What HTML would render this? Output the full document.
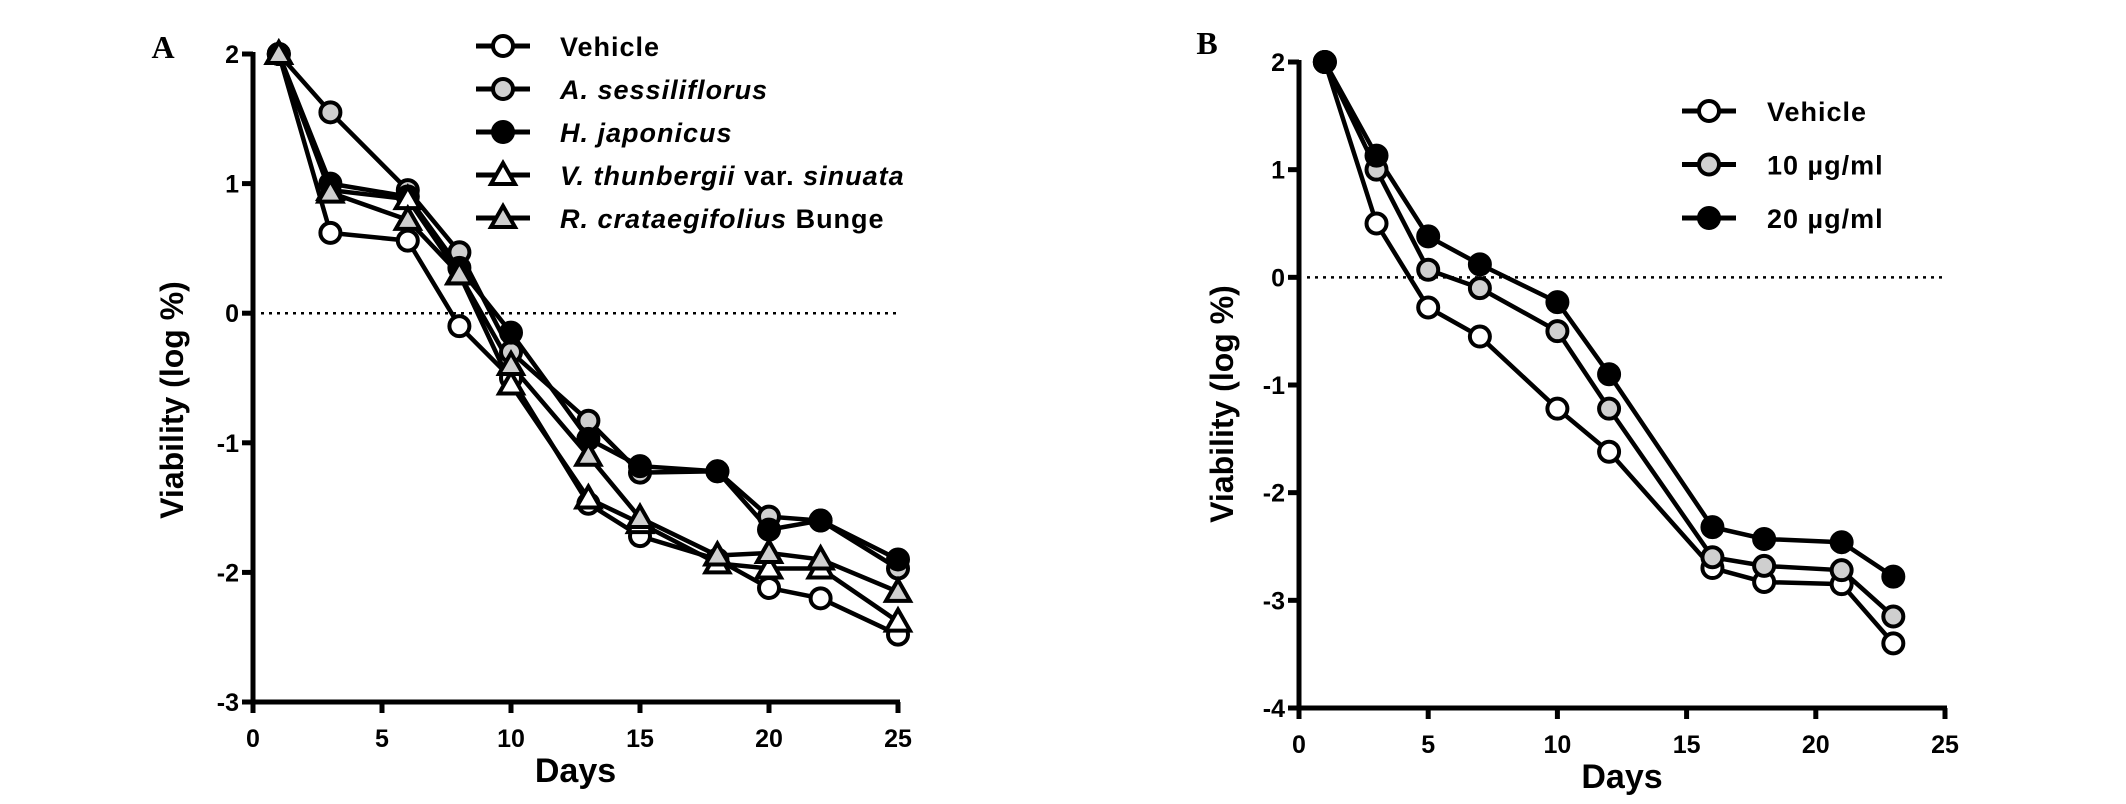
<!DOCTYPE html>
<html><head><meta charset="utf-8">
<style>
html,body{margin:0;padding:0;background:#fff;}
svg{display:block;font-family:"Liberation Sans",Arial,sans-serif;}
</style></head>
<body>
<svg id="chart" width="2126" height="804" viewBox="0 0 2126 804" xmlns="http://www.w3.org/2000/svg">
<text x="163" y="58" font-family="Liberation Serif,serif" font-weight="bold" font-size="32" text-anchor="middle">A</text>
<text x="1207" y="54" font-family="Liberation Serif,serif" font-weight="bold" font-size="32" text-anchor="middle">B</text>
<g id="panelA"></g>
<g id="panelB"></g>
</svg>
<script>
// Panel A data
const daysA = [1,3,6,8,10,13,15,18,20,22,25];
const vehicleA = [2,0.62,0.56,-0.1,-0.5,-1.47,-1.72,-1.9,-2.12,-2.2,-2.48];
const sessiliflorusA = [2,1.55,0.95,0.47,-0.3,-0.83,-1.23,-1.22,-1.57,-1.6,-1.97];
const japonicusA = [2,1.0,0.9,0.35,-0.15,-0.97,-1.18,-1.22,-1.67,-1.6,-1.9];
const thunbergiiA = [2,0.95,0.88,0.3,-0.55,-1.43,-1.62,-1.93,-1.97,-1.97,-2.38];
const crataegifoliusA = [2,0.93,0.72,0.3,-0.4,-1.1,-1.58,-1.87,-1.85,-1.9,-2.15];
const xTicksA = [0,5,10,15,20,25];
const yTicksA = [-3,-2,-1,0,1,2];
// Panel B data
const daysB = [1,3,5,7,10,12,16,18,21,23];
const vehicleB = [2,0.5,-0.28,-0.55,-1.22,-1.62,-2.7,-2.83,-2.85,-3.4];
const dose10B = [2,1.0,0.07,-0.1,-0.5,-1.22,-2.6,-2.68,-2.72,-3.15];
const dose20B = [2,1.13,0.38,0.12,-0.23,-0.9,-2.32,-2.43,-2.46,-2.78];
const xTicksB = [0,5,10,15,20,25];
const yTicksB = [-4,-3,-2,-1,0,1,2];

const NS="http://www.w3.org/2000/svg";
function mk(parent,tag,attrs){const e=document.createElementNS(NS,tag);for(const k in attrs)e.setAttribute(k,attrs[k]);parent.appendChild(e);return e;}

function marker(g,shape,fill,x,y){
  let e;
  if(shape==='circle'){e=mk(g,'circle',{cx:x,cy:y,r:10,fill:fill,stroke:'#000','stroke-width':4});}
  else{e=mk(g,'polygon',{points:`${x},${y-12} ${x+12},${y+9} ${x-12},${y+9}`,fill:fill,stroke:'#000','stroke-width':4,'stroke-linejoin':'miter'});}
  return e;
}

function drawPanel(g,cfg){
  const sx=v=>cfg.x0+(v-cfg.xmin)/(cfg.xmax-cfg.xmin)*(cfg.x1-cfg.x0);
  const sy=v=>cfg.ybot+(v-cfg.ymin)/(cfg.ymax-cfg.ymin)*(cfg.ytop-cfg.ybot);
  const ya=mk(g,'line',{x1:cfg.x0,y1:sy(cfg.ymax)-2,x2:cfg.x0,y2:cfg.ybot+2,stroke:'#000','stroke-width':5});
  
  
  const xa=mk(g,'line',{x1:cfg.x0-2,y1:cfg.ybot,x2:cfg.x1+2,y2:cfg.ybot,stroke:'#000','stroke-width':5});
  
  
  cfg.yTicks.forEach(t=>{
    mk(g,'line',{x1:cfg.x0-11,y1:sy(t),x2:cfg.x0,y2:sy(t),stroke:'#000','stroke-width':5});
    const tx=mk(g,'text',{x:cfg.x0-14,y:sy(t)+9,'font-size':25,'font-weight':'bold','text-anchor':'end'});
    tx.textContent=String(t);
    
    
  });
  cfg.xTicks.forEach(t=>{
    mk(g,'line',{x1:sx(t),y1:cfg.ybot,x2:sx(t),y2:cfg.ybot+11,stroke:'#000','stroke-width':5});
    const tx=mk(g,'text',{x:sx(t),y:cfg.ybot+45,'font-size':25,'font-weight':'bold','text-anchor':'middle'});
    tx.textContent=String(t);
    
    
  });
  const zl=mk(g,'line',{x1:cfg.x0+8,y1:sy(0),x2:cfg.x1,y2:sy(0),stroke:'#000','stroke-width':2.5,'stroke-dasharray':'3,5'});
  
  
  const xt=mk(g,'text',{x:(cfg.x0+cfg.x1)/2,y:cfg.ybot+80,'font-size':34,'font-weight':'bold','text-anchor':'middle'});
  xt.textContent='Days';
  
  
  const yt=mk(g,'text',{x:0,y:0,'font-size':32,'font-weight':'bold','text-anchor':'middle',transform:`translate(${cfg.ylx},${cfg.yly}) rotate(-90)`});
  yt.textContent='Viability (log %)';
  
  
  cfg.series.forEach(s=>{
    const sg=mk(g,'g',{});
    
    
    const pts=cfg.days.map((d,i)=>sx(d)+','+sy(s.values[i])).join(' ');
    mk(sg,'polyline',{points:pts,fill:'none',stroke:'#000','stroke-width':4.5,'stroke-linejoin':'round'});
  });
  cfg.series.forEach(s=>{
    cfg.days.forEach((d,i)=>{
      const m=marker(g,s.shape,s.fill,sx(d),sy(s.values[i]));
      
      
    });
  });
  cfg.series.forEach((s,i)=>{
    const ly=cfg.legY+i*cfg.legStep;
    const lg=mk(g,'g',{});
    
    
    mk(lg,'line',{x1:cfg.legX-27,y1:ly,x2:cfg.legX+27,y2:ly,stroke:'#000','stroke-width':5});
    marker(lg,s.shape,s.fill,cfg.legX,ly);
    const t=mk(lg,'text',{x:cfg.legTextX,y:ly+10,'font-size':27,'font-weight':'bold','letter-spacing':'1'});
    t.innerHTML=s.label;
  });
}

drawPanel(document.getElementById('panelA'),{
  x0:253,x1:898,xmin:0,xmax:25,ytop:54,ybot:702,ymin:-3,ymax:2,
  days:daysA,xTicks:xTicksA,yTicks:yTicksA,ylx:183,yly:400,
  legX:503,legY:46,legStep:43,legTextX:560,
  series:[
    {key:'vehicle',shape:'circle',fill:'#fff',values:vehicleA,label:'Vehicle'},
    {key:'a-sessiliflorus',shape:'circle',fill:'#cfcfcf',values:sessiliflorusA,label:'<tspan font-style="italic">A. sessiliflorus</tspan>'},
    {key:'h-japonicus',shape:'circle',fill:'#000',values:japonicusA,label:'<tspan font-style="italic">H. japonicus</tspan>'},
    {key:'v-thunbergii',shape:'tri',fill:'#fff',values:thunbergiiA,label:'<tspan font-style="italic">V. thunbergii</tspan> var. <tspan font-style="italic">sinuata</tspan>'},
    {key:'r-crataegifolius',shape:'tri',fill:'#cfcfcf',values:crataegifoliusA,label:'<tspan font-style="italic">R. crataegifolius</tspan> Bunge'}
  ]
});
drawPanel(document.getElementById('panelB'),{
  x0:1299,x1:1945,xmin:0,xmax:25,ytop:62,ybot:708,ymin:-4,ymax:2,
  days:daysB,xTicks:xTicksB,yTicks:yTicksB,ylx:1233,yly:404,
  legX:1709,legY:111,legStep:53.5,legTextX:1767,
  series:[
    {key:'vehicle',shape:'circle',fill:'#fff',values:vehicleB,label:'Vehicle'},
    {key:'10-ug-ml',shape:'circle',fill:'#cfcfcf',values:dose10B,label:'10 µg/ml'},
    {key:'20-ug-ml',shape:'circle',fill:'#000',values:dose20B,label:'20 µg/ml'}
  ]
});
</script>
</body></html>
